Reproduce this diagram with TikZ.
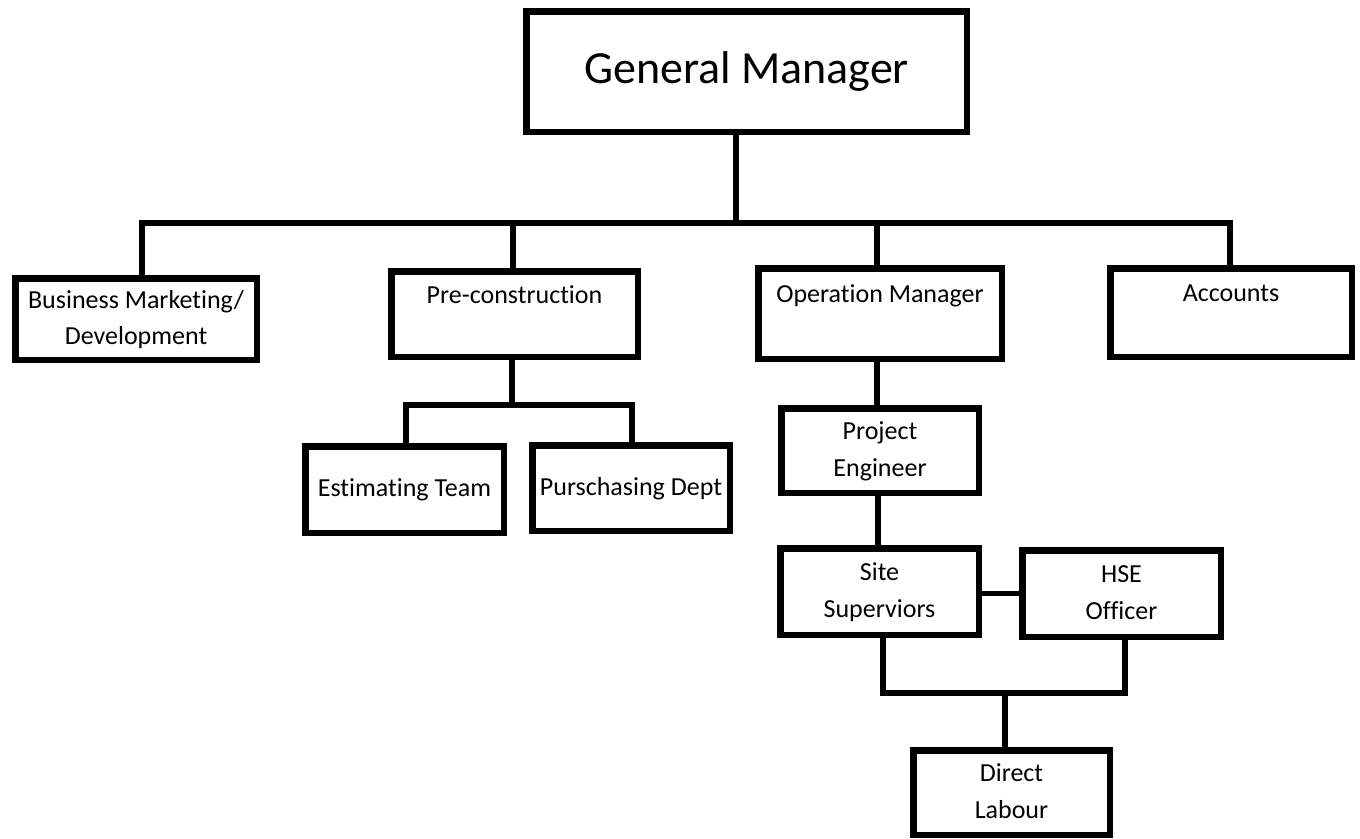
\documentclass[tikz,border=0pt]{standalone}
\usepackage{fontspec}
\setmainfont[Ligatures=NoCommon]{Carlito}
\usetikzlibrary{calc}
\usetikzlibrary{positioning}

\begin{document}
\begin{tikzpicture}[
  x=1pt, y=-1pt,
  every node/.style={inner sep=0pt, align=center},
  box/.style={draw, line width=6.5pt, font=\fontsize{26}{36.5}\selectfont},
  topbox/.style={box, font=\fontsize{46}{56}\selectfont},
  link/.style={line width=5.5pt, line join=miter},
  ]
  \useasboundingbox (0,0) rectangle (1360,838);
  % top level
  \node[topbox, minimum width=440.5, minimum height=120.5](gm) at (746.5,71.5) {General Manager};
  % second level
  \node[box, minimum width=241.5, minimum height=81.5](bm) at (136,319) {\strut Business Marketing/\\\strut Development};
  \node[box, minimum width=246.5, minimum height=85.5](pc) at (514.5,314) {\strut Pre-construction\\\strut};
  \node[box, minimum width=243.5, minimum height=90.5](om) at (880,313.5) {\strut Operation Manager\\\strut};
  \node[box, minimum width=241.5, minimum height=88.5](ac) at (1231,312.5) {\strut Accounts\\\strut};
  % under pre-construction
  \node[box, minimum width=198.5, minimum height=86.5](et) at (404.5,489.5) {\strut Estimating Team};
  \node[box, minimum width=197.5, minimum height=85.5](pd) at (631,488) {\strut Purschasing Dept};
  % under operation manager
  \node[box, minimum width=197.5, minimum height=84.5](pe) at (880,450.5) {\strut Project\\\strut Engineer};
  \node[box, minimum width=198.5, minimum height=86.5](ss) at (879.5,591.5) {\strut Site\\\strut Superviors};
  \node[box, minimum width=198.5, minimum height=86.5](hse) at (1121.5,593.5) {\strut HSE\\\strut Officer};
  \node[box, minimum width=196.5, minimum height=84.5](dl) at (1011.5,792.5) {\strut Direct\\\strut Labour};
  % junctions
  \coordinate (bus) at (736,223);
  \coordinate (pcbar) at (512,405);
  \coordinate (dlbar) at (1005,693);
  % connectors
  \draw[link] (gm.south -| bus) -- (bus);
  \draw[link] ([xshift=6pt]bm.north) |- (bus) -| ([xshift=-1pt]ac.north);
  \draw[link] ([xshift=-1.5pt]pc.north) -- ([xshift=-1.5pt]pc.north |- bus);
  \draw[link] ([xshift=-3pt]om.north) -- ([xshift=-3pt]om.north |- bus);
  \draw[link] (pc.south -| pcbar) -- (pcbar);
  \draw[link] ([xshift=1.5pt]et.north) |- (pcbar) -| ([xshift=1pt]pd.north);
  \draw[link] ([xshift=-3pt]om.south) -- ([xshift=-3pt]pe.north);
  \draw[link] ([xshift=-2pt]pe.south) -- ([xshift=-2pt]pe.south |- ss.north);
  \draw[link] (ss.east |- hse.west) -- (hse.west);
  \draw[link] ([xshift=3.5pt]ss.south) |- (dlbar) -| ([xshift=3.5pt]hse.south);
  \draw[link] (dl.north -| dlbar) -- (dlbar);
\end{tikzpicture}
\end{document}
